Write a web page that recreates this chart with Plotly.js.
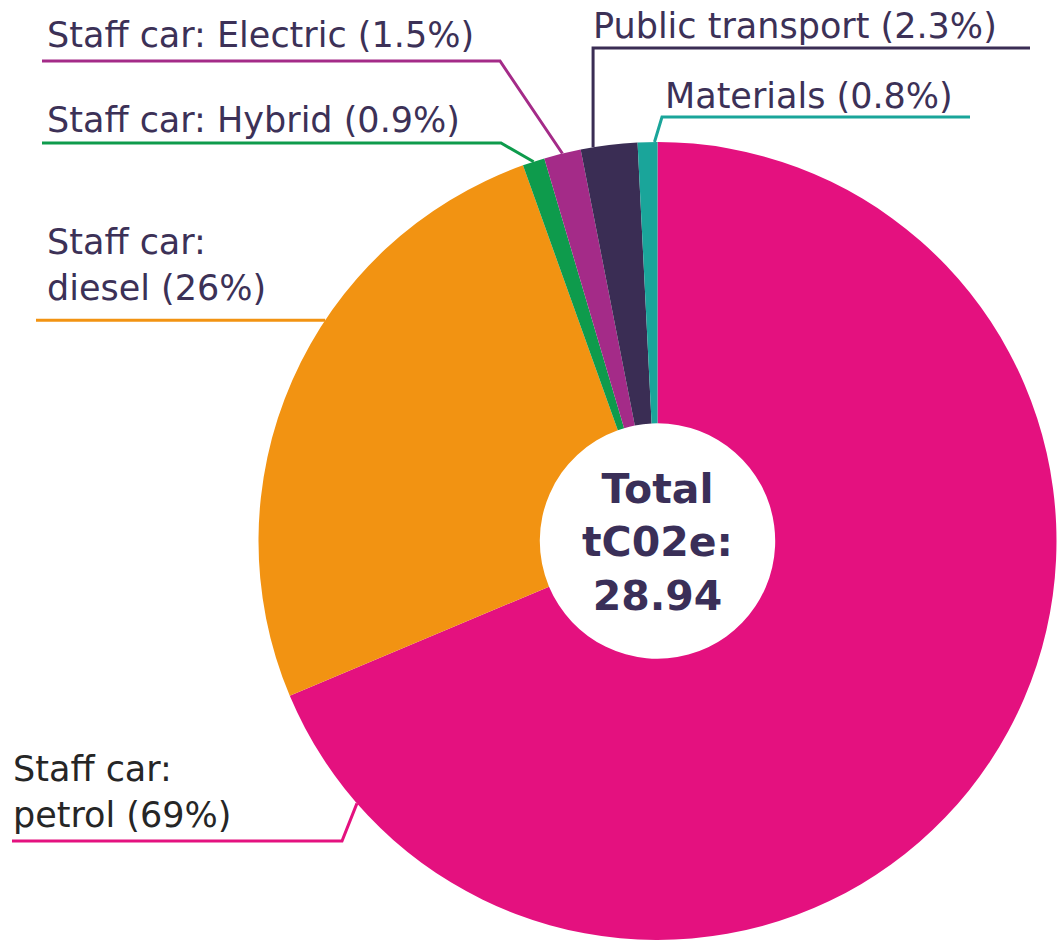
<!DOCTYPE html>
<html>
<head>
<meta charset="utf-8">
<script src="https://cdn.plot.ly/plotly-3.0.1.min.js"></script>
<style>
html,body{margin:0;padding:0;background:#fff;}
#chart{width:1057px;height:947px;}
</style>
</head>
<body>
<div id="chart"></div>
<script>
// ---- data ----
const categories = ['Staff car: petrol', 'Staff car: diesel', 'Staff car: Hybrid', 'Staff car: Electric', 'Public transport', 'Materials'];
const shares = [69, 26, 0.9, 1.5, 2.3, 0.8];
const totalTCO2e = 28.94;
const colors = ['#E4117F', '#F29312', '#0E9B4C', '#A42B88', '#3A2D54', '#1AA59A'];

// ---- layout helpers (pixels) ----
const W = 1057, H = 947;
const CX = 657.5, CY = 541, R = 399;
const textColor = '#3C3157';
const FONT = 'DejaVu Sans, sans-serif';
const LABEL_SIZE = 35;
const px = x => x / W;
const py = y => 1 - y / H;

// label placement: text position, wrap, leader route, where on slice the leader ends
const labelCfg = [
  {tx: 11,  ty: 792, wrap: true,  color: '#262626', lineStart: 12,   lineY: 841, elbowX: 342, frac: 0.926},
  {tx: 45,  ty: 265, wrap: true,  color: textColor, lineStart: 36,   lineY: null, elbowX: null, frac: 0.606},
  {tx: 45,  ty: 120, wrap: false, color: textColor, lineStart: 42,   lineY: 143, elbowX: 501, frac: 0.5},
  {tx: 45,  ty: 35,  wrap: false, color: textColor, lineStart: 42,   lineY: 61,  elbowX: 500, frac: 0.5},
  {tx: 591, ty: 26,  wrap: false, color: textColor, lineStart: 1030, lineY: 48,  elbowX: 'anchor', frac: 0.22},
  {tx: 663, ty: 96,  wrap: false, color: textColor, lineStart: 970,  lineY: 117, elbowX: 662, frac: 0.85}
];

const total = shares.reduce((a, b) => a + b, 0);
let cum = 0;
const anchors = shares.map((v, i) => {
  const th = (cum + v * labelCfg[i].frac) / total * 2 * Math.PI;
  cum += v;
  return [CX + R * Math.sin(th), CY - R * Math.cos(th)];
});

const annotations = [];
const shapes = [];
categories.forEach((c, i) => {
  const cfg = labelCfg[i];
  const name = cfg.wrap ? c.replace(': ', ':<br>') : c;
  annotations.push({
    xref: 'paper', yref: 'paper', x: px(cfg.tx), y: py(cfg.ty),
    xanchor: 'left', yanchor: 'middle', align: 'left', showarrow: false,
    text: name + ' (' + shares[i] + '%)',
    font: {family: FONT, size: LABEL_SIZE, color: cfg.color}
  });
  const [ax, ay] = anchors[i];
  let pts;
  if (cfg.lineY === null) {
    pts = [[cfg.lineStart, ay], [ax, ay]];
  } else if (cfg.elbowX === 'anchor') {
    pts = [[cfg.lineStart, cfg.lineY], [ax, cfg.lineY], [ax, ay]];
  } else {
    pts = [[cfg.lineStart, cfg.lineY], [cfg.elbowX, cfg.lineY], [ax, ay]];
  }
  const path = pts.map((p, k) => (k ? 'L' : 'M') + px(p[0]) + ',' + py(p[1])).join(' ');
  shapes.push({type: 'path', xref: 'paper', yref: 'paper', path: path,
    line: {color: colors[i], width: 3}});
});

annotations.push({
  xref: 'paper', yref: 'paper', x: px(CX), y: py(542),
  xanchor: 'center', yanchor: 'middle', showarrow: false, align: 'center',
  text: '<b>Total<br>tC02e:<br>' + totalTCO2e.toFixed(2) + '</b>',
  font: {family: FONT, size: 41, color: '#3A2F58'}
});

const trace = {
  type: 'pie',
  labels: categories,
  values: shares,
  marker: {colors: colors, line: {width: 0}},
  hole: 0.295,
  sort: false,
  direction: 'clockwise',
  rotation: 0,
  textinfo: 'none',
  hoverinfo: 'label+percent',
  domain: {x: [(CX - R) / W, (CX + R) / W], y: [1 - (CY + R) / H, 1 - (CY - R) / H]}
};

Plotly.newPlot('chart', [trace], {
  width: W, height: H,
  margin: {l: 0, r: 0, t: 0, b: 0},
  paper_bgcolor: '#ffffff',
  showlegend: false,
  annotations: annotations,
  shapes: shapes
}, {displayModeBar: false, staticPlot: true});
</script>
</body>
</html>
